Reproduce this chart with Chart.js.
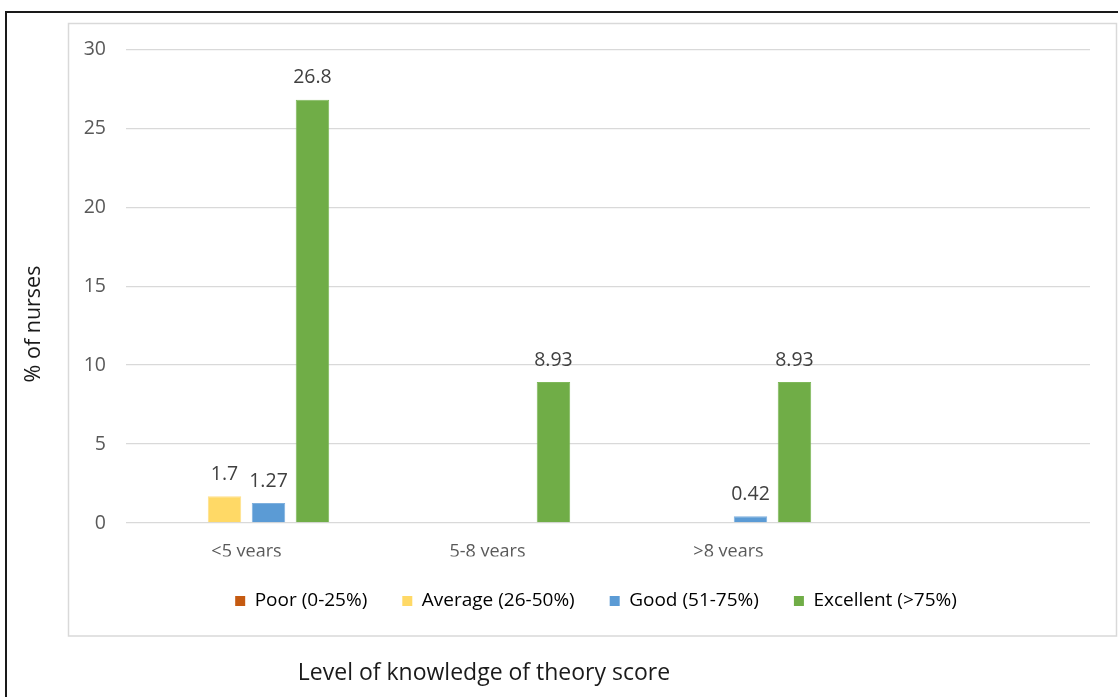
<!DOCTYPE html>
<html>
<head>
<meta charset="utf-8">
<title>Level of knowledge of theory score</title>
<script src="https://cdn.jsdelivr.net/npm/chart.js@4.4.1/dist/chart.umd.min.js"></script>
<style>
  html, body { margin: 0; padding: 0; background: #ffffff; }
  #wrap { position: relative; width: 1118px; height: 697px; }
  canvas { display: block; }
</style>
</head>
<body>
<div id="wrap"><canvas id="chart" width="1118" height="697"></canvas></div>
<script>
// Years of experience groups (the last slot is left empty)
const categories = ['<5 years', '5-8 years', '>8 years', ''];

// Percentage of nurses per knowledge level
const poor      = [0, 0, 0, null];
const average   = [1.7, 0, 0, null];
const good      = [1.27, 0, 0.42, null];
const excellent = [26.8, 8.93, 8.93, null];

const seriesNames = ['Poor (0-25%)', 'Average (26-50%)', 'Good (51-75%)', 'Excellent (>75%)'];
const yTicks = [0, 5, 10, 15, 20, 25, 30];

const yTitle = '% of nurses';
const xTitle = 'Level of knowledge of theory score';

const FONT = "'Open Sans', 'Noto Sans', sans-serif";

// Frame lines and axis captions around the plot
const framePlugin = {
  id: 'frame',
  beforeDraw(chart) {
    const ctx = chart.ctx;
    ctx.save();
    ctx.fillStyle = '#ffffff';
    ctx.fillRect(0, 0, chart.width, chart.height);
    // outer dark rule
    ctx.strokeStyle = '#1a1a1a';
    ctx.lineWidth = 2;
    ctx.beginPath();
    ctx.moveTo(6, chart.height + 2);
    ctx.lineTo(6, 12);
    ctx.lineTo(chart.width + 2, 12);
    ctx.stroke();
    // light chart box
    ctx.strokeStyle = '#d9d9d9';
    ctx.lineWidth = 1.5;
    ctx.strokeRect(68.5, 23.5, 1048, 612.5);
    ctx.restore();
  },
  afterDraw(chart) {
    const ctx = chart.ctx;
    ctx.save();
    ctx.fillStyle = '#1a1a1a';
    ctx.textAlign = 'center';
    ctx.textBaseline = 'middle';
    ctx.font = "21.5px " + FONT;
    ctx.translate(34, 324);
    ctx.rotate(-Math.PI / 2);
    ctx.fillText(yTitle, 0, 0);
    ctx.restore();

    ctx.save();
    ctx.fillStyle = '#1a1a1a';
    ctx.textAlign = 'center';
    ctx.textBaseline = 'middle';
    ctx.font = "23px " + FONT;
    ctx.fillText(xTitle, 484, 673);
    ctx.restore();
  }
};

// Value labels above every non-zero bar
const valueLabels = {
  id: 'valueLabels',
  afterDatasetsDraw(chart) {
    const ctx = chart.ctx;
    ctx.save();
    ctx.fillStyle = '#404040';
    ctx.font = "19.5px " + FONT;
    ctx.textAlign = 'center';
    ctx.textBaseline = 'middle';
    chart.data.datasets.forEach((ds, di) => {
      const meta = chart.getDatasetMeta(di);
      meta.data.forEach((bar, i) => {
        const v = ds.data[i];
        if (v === null || v === 0) return;
        ctx.fillText(String(v), bar.x, bar.y - 22);
      });
    });
    ctx.restore();
  }
};

const colors = ['#c55a11', '#ffd966', '#5b9bd5', '#70ad47'];
const borders = ['#d46a25', '#ffe08a', '#7fb0de', '#7fb85a'];
const values = [poor, average, good, excellent];

new Chart(document.getElementById('chart'), {
  type: 'bar',
  data: {
    labels: categories,
    datasets: values.map((d, i) => ({
      label: seriesNames[i],
      data: d,
      backgroundColor: colors[i],
      borderColor: borders[i],
      borderWidth: 1,
      barPercentage: 0.761,
      categoryPercentage: 0.730
    }))
  },
  options: {
    responsive: false,
    animation: false,
    devicePixelRatio: 1,
    layout: { padding: { left: 74, right: 0, top: 49.3, bottom: 76.5 } },
    plugins: {
      legend: {
        position: 'bottom',
        labels: {
          boxWidth: 10,
          boxHeight: 10,
          padding: 35,
          color: '#595959',
          font: { family: FONT, size: 19 },
          generateLabels(chart) {
            return chart.data.datasets.map((ds, i) => ({
              text: ds.label,
              fillStyle: colors[i],
              strokeStyle: colors[i],
              lineWidth: 0,
              datasetIndex: i,
              hidden: false
            }));
          }
        }
      },
      title: { display: false },
      tooltip: { enabled: false }
    },
    scales: {
      x: {
        grid: { display: false, drawTicks: false },
        border: { display: false },
        ticks: { color: '#595959', padding: 18, font: { family: FONT, size: 18 } },
        afterFit(scale) { scale.height = 33.5; }
      },
      y: {
        min: 0,
        max: 30,
        grid: { color: '#d9d9d9', lineWidth: 1.3, drawTicks: false },
        border: { display: false },
        afterBuildTicks(scale) { scale.ticks = yTicks.map(v => ({ value: v })); },
        ticks: { color: '#595959', padding: 20, font: { family: FONT, size: 19.5 } },
        afterFit(scale) { scale.width = 52; }
      },
      // empty right-hand margin inside the chart box
      yRight: {
        type: 'linear',
        position: 'right',
        display: true,
        grid: { display: false, drawTicks: false },
        border: { display: false },
        ticks: { display: false },
        afterFit(scale) { scale.width = 28; }
      }
    }
  },
  plugins: [framePlugin, valueLabels]
});
</script>
</body>
</html>
